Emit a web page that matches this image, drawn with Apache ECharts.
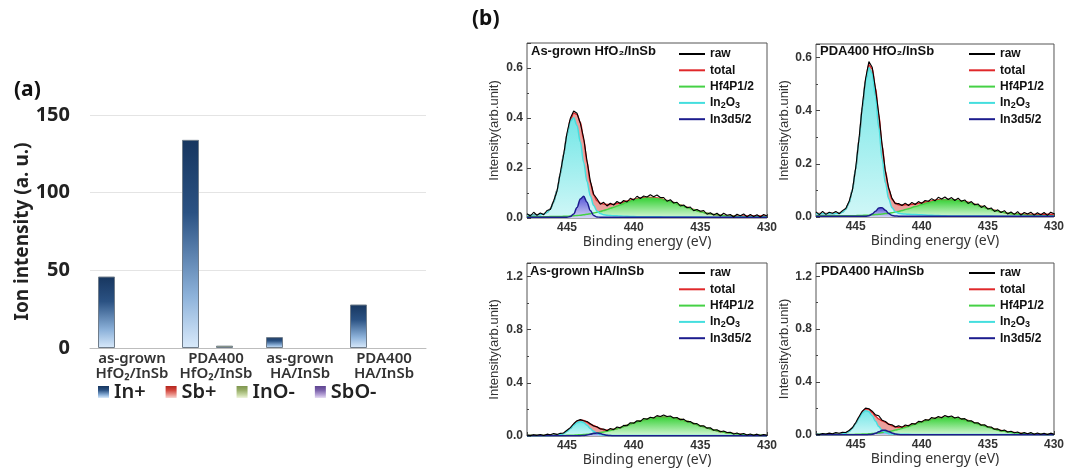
<!DOCTYPE html>
<html>
<head>
<meta charset="utf-8">
<title>Ion intensity and XPS fits</title>
<script src="https://cdn.jsdelivr.net/npm/echarts@6/dist/echarts.min.js"></script>
<style>
  html, body { margin: 0; padding: 0; background: #fff; }
  #chart { width: 1067px; height: 471px; }
</style>
</head>
<body>
<div id="chart"></div>
<script>
// ---- panel (a): ion intensity ----
const samples = ['as-grown HfO2/InSb', 'PDA400 HfO2/InSb', 'as-grown HA/InSb', 'PDA400 HA/InSb'];
const ionNames = ['In+', 'Sb+', 'InO-', 'SbO-'];
const inPlus = [46, 134, 7, 28];
const sbPlus = [0, 0, 0, 0];
const inoMinus = [0, 1.5, 0, 0];
const sboMinus = [0, 0, 0, 0];

// ---- panel (b): XPS In3d / Hf4p region ----
const fitNames = ['raw', 'total', 'Hf4P1/2', 'In2O3', 'In3d5/2'];
// binding energy grid used by the fitted curves
const energy = [448, 447.5, 447, 446.75, 446.5, 446.25, 446, 445.75, 445.5, 445.25, 445, 444.75, 444.5, 444.25, 444,
  443.75, 443.5, 443.25, 443, 442.75, 442.5, 442.25, 442, 441.75, 441.5, 441.25, 441,
  440.5, 440, 439.5, 439, 438.5, 438, 437.5, 437, 436.5, 436, 435.5, 435, 434.5, 434, 433.5, 433, 432.5, 432, 431.5, 431, 430.5, 430];
// binding energy of the raw scan
const rawEnergy = [448, 447.75, 447.5, 447.25, 447, 446.75, 446.5, 446.25, 446, 445.75, 445.5, 445.25, 445, 444.75, 444.5, 444.25,
  444, 443.75, 443.5, 443.25, 443, 442.75, 442.5, 442.25, 442, 441.75, 441.5, 441.25, 441, 440.75, 440.5, 440.25,
  440, 439.75, 439.5, 439.25, 439, 438.75, 438.5, 438.25, 438, 437.75, 437.5, 437.25, 437, 436.75, 436.5, 436.25,
  436, 435.75, 435.5, 435.25, 435, 434.75, 434.5, 434.25, 434, 433.75, 433.5, 433.25, 433, 432.75, 432.5, 432.25,
  432, 431.75, 431.5, 431.25, 431, 430.75, 430.5, 430.25, 430];

// As-grown HfO2/InSb
const tlRaw = [0.017,0.008,0.023,0.011,0.020,0.013,0.030,0.034,0.069,0.107,0.182,0.254,0.340,0.399,0.428,0.419,
  0.379,0.320,0.229,0.148,0.095,0.077,0.055,0.063,0.048,0.059,0.052,0.066,0.058,0.070,0.064,0.079,
  0.072,0.087,0.078,0.088,0.084,0.093,0.085,0.092,0.082,0.082,0.067,0.073,0.060,0.063,0.048,0.052,
  0.041,0.044,0.029,0.034,0.027,0.030,0.015,0.021,0.012,0.019,0.008,0.019,0.011,0.014,0.004,0.015,
  0.009,0.016,0.005,0.014,0.006,0.013,0.004,0.014,0.008];
const tlTotal = [0.013,0.013,0.014,0.017,0.023,0.037,0.065,0.111,0.177,0.257,0.336,0.393,0.420,0.414,0.383,
  0.314,0.225,0.142,0.092,0.069,0.059,0.056,0.054,0.054,0.055,0.058,0.060,
  0.068,0.075,0.080,0.083,0.082,0.078,0.070,0.062,0.052,0.043,0.034,0.026,0.019,0.014,0.011,0.009,0.008,0.008,0.008,0.008,0.008,0.008];
const tlHf = [0.005,0.005,0.005,0.005,0.005,0.006,0.006,0.006,0.006,0.007,0.007,0.008,0.009,0.010,0.011,
  0.013,0.015,0.017,0.020,0.023,0.026,0.030,0.034,0.039,0.043,0.048,0.053,
  0.063,0.071,0.077,0.080,0.079,0.076,0.069,0.061,0.051,0.042,0.033,0.025,0.019,0.014,0.011,0.008,0.007,0.006,0.005,0.005,0.005,0.005];
const tlIn2O3 = [0.012,0.012,0.013,0.016,0.022,0.036,0.064,0.110,0.176,0.255,0.333,0.387,0.401,0.370,0.304,
  0.222,0.146,0.088,0.050,0.028,0.018,0.013,0.011,0.010,0.009,0.009,0.008,
  0.007,0.006,0.005,0.005,0.005,0.005,0.004,0.004,0.004,0.004,0.004,0.004,0.003,0.003,0.003,0.003,0.003,0.003,0.003,0.003,0.003,0.003];
const tlIn3d = [0.003,0.003,0.003,0.003,0.003,0.003,0.003,0.003,0.003,0.003,0.003,0.006,0.016,0.042,0.076,
  0.087,0.063,0.030,0.010,0.004,0.003,0.003,0.003,0.003,0.003,0.003,0.003,
  0.003,0.003,0.003,0.003,0.003,0.003,0.003,0.003,0.003,0.003,0.003,0.003,0.003,0.003,0.003,0.003,0.003,0.003,0.003,0.003,0.003,0.003];

// PDA400 HfO2/InSb
const trRaw = [0.019,0.009,0.021,0.010,0.018,0.014,0.021,0.012,0.024,0.032,0.058,0.100,0.184,0.293,0.417,0.520,
  0.584,0.563,0.482,0.387,0.272,0.171,0.109,0.070,0.050,0.051,0.043,0.052,0.043,0.055,0.047,0.058,
  0.051,0.062,0.059,0.069,0.061,0.074,0.068,0.075,0.066,0.073,0.062,0.071,0.059,0.064,0.051,0.058,
  0.046,0.049,0.036,0.043,0.030,0.034,0.021,0.027,0.017,0.024,0.011,0.019,0.010,0.020,0.007,0.017,
  0.011,0.018,0.007,0.016,0.008,0.017,0.006,0.018,0.012];
const trTotal = [0.013,0.013,0.013,0.013,0.014,0.015,0.019,0.030,0.054,0.102,0.180,0.290,0.411,0.516,0.572,
  0.557,0.485,0.382,0.269,0.173,0.105,0.067,0.053,0.046,0.045,0.046,0.046,
  0.049,0.054,0.058,0.063,0.066,0.066,0.065,0.061,0.055,0.048,0.040,0.032,0.025,0.019,0.014,0.012,0.011,0.010,0.010,0.010,0.010,0.010];
const trHf = [0.005,0.005,0.005,0.005,0.005,0.005,0.005,0.005,0.005,0.005,0.005,0.006,0.006,0.007,0.007,
  0.008,0.009,0.010,0.011,0.013,0.014,0.016,0.019,0.021,0.024,0.028,0.031,
  0.039,0.047,0.054,0.060,0.064,0.065,0.064,0.060,0.054,0.047,0.039,0.031,0.024,0.019,0.014,0.011,0.009,0.007,0.006,0.005,0.005,0.005];
const trIn2O3 = [0.012,0.012,0.012,0.012,0.013,0.014,0.018,0.029,0.053,0.101,0.179,0.288,0.409,0.511,0.561,
  0.539,0.454,0.336,0.219,0.128,0.068,0.035,0.020,0.014,0.012,0.011,0.010,
  0.009,0.008,0.007,0.006,0.005,0.004,0.004,0.004,0.004,0.004,0.004,0.004,0.003,0.003,0.003,0.003,0.003,0.003,0.003,0.003,0.003,0.003];
const trIn3d = [0.003,0.003,0.003,0.003,0.003,0.003,0.003,0.003,0.003,0.003,0.003,0.003,0.003,0.003,0.005,
  0.011,0.022,0.034,0.035,0.025,0.013,0.006,0.004,0.003,0.003,0.003,0.003,
  0.003,0.003,0.003,0.003,0.003,0.003,0.003,0.003,0.003,0.003,0.003,0.003,0.003,0.003,0.003,0.003,0.003,0.003,0.003,0.003,0.003,0.003];

// As-grown HA/InSb
const blRaw = [0.007,0.003,0.009,0.005,0.011,0.004,0.014,0.009,0.018,0.012,0.020,0.023,0.043,0.063,0.092,0.115,
  0.123,0.115,0.109,0.092,0.075,0.070,0.053,0.052,0.040,0.056,0.048,0.068,0.061,0.080,0.077,0.100,
  0.096,0.115,0.110,0.132,0.126,0.141,0.135,0.153,0.146,0.158,0.146,0.150,0.135,0.139,0.122,0.127,
  0.108,0.109,0.092,0.093,0.074,0.077,0.059,0.062,0.043,0.047,0.032,0.037,0.026,0.028,0.015,0.023,
  0.012,0.019,0.007,0.015,0.006,0.014,0.004,0.011,0.005];
const blTotal = [0.005,0.005,0.005,0.005,0.005,0.005,0.006,0.007,0.012,0.021,0.037,0.059,0.087,0.109,0.119,
  0.117,0.104,0.089,0.078,0.066,0.056,0.046,0.044,0.046,0.050,0.056,0.064,
  0.081,0.098,0.114,0.128,0.138,0.144,0.143,0.137,0.126,0.111,0.094,0.077,0.061,0.046,0.034,0.025,0.018,0.013,0.009,0.007,0.006,0.005];
const blHf = [0.003,0.003,0.003,0.003,0.003,0.003,0.004,0.004,0.004,0.004,0.005,0.006,0.006,0.008,0.009,
  0.011,0.013,0.015,0.018,0.022,0.026,0.030,0.036,0.042,0.048,0.055,0.063,
  0.080,0.097,0.113,0.127,0.137,0.143,0.142,0.136,0.125,0.110,0.093,0.076,0.060,0.045,0.033,0.024,0.017,0.012,0.008,0.006,0.005,0.004];
const blIn2O3 = [0.004,0.004,0.004,0.004,0.004,0.004,0.005,0.006,0.011,0.019,0.035,0.056,0.081,0.101,0.109,
  0.101,0.081,0.056,0.035,0.019,0.011,0.006,0.005,0.004,0.004,0.004,0.004,
  0.004,0.004,0.004,0.004,0.004,0.004,0.004,0.004,0.004,0.004,0.003,0.003,0.003,0.003,0.003,0.003,0.003,0.003,0.003,0.003,0.003,0.003];
const blIn3d = [0.002,0.002,0.002,0.002,0.002,0.002,0.002,0.002,0.002,0.002,0.002,0.002,0.002,0.002,0.002,
  0.004,0.007,0.013,0.020,0.022,0.018,0.011,0.005,0.003,0.002,0.002,0.002,
  0.002,0.002,0.002,0.002,0.002,0.002,0.002,0.002,0.002,0.002,0.002,0.002,0.002,0.002,0.002,0.002,0.002,0.002,0.002,0.002,0.002,0.002];

// PDA400 HA/InSb
const brRaw = [0.008,0.004,0.011,0.007,0.014,0.009,0.018,0.013,0.020,0.019,0.034,0.055,0.093,0.138,0.180,0.203,
  0.198,0.180,0.152,0.145,0.112,0.102,0.080,0.078,0.060,0.069,0.058,0.076,0.069,0.087,0.082,0.103,
  0.099,0.116,0.111,0.132,0.125,0.140,0.131,0.147,0.137,0.144,0.128,0.136,0.120,0.124,0.106,0.108,
  0.091,0.093,0.074,0.078,0.060,0.060,0.043,0.046,0.032,0.037,0.023,0.028,0.017,0.023,0.010,0.018,
  0.009,0.018,0.006,0.015,0.006,0.013,0.004,0.014,0.006];
const brTotal = [0.005,0.005,0.005,0.005,0.006,0.007,0.009,0.015,0.028,0.053,0.089,0.135,0.175,0.197,0.195,
  0.172,0.142,0.120,0.108,0.096,0.083,0.070,0.062,0.059,0.061,0.065,0.071,
  0.085,0.101,0.114,0.126,0.133,0.135,0.131,0.122,0.109,0.093,0.077,0.061,0.046,0.034,0.025,0.018,0.013,0.010,0.008,0.007,0.006,0.005];
const brHf = [0.003,0.003,0.003,0.003,0.003,0.003,0.004,0.004,0.004,0.004,0.005,0.006,0.007,0.008,0.009,
  0.011,0.013,0.015,0.019,0.022,0.026,0.031,0.037,0.043,0.050,0.057,0.065,
  0.081,0.098,0.112,0.124,0.131,0.133,0.129,0.120,0.107,0.091,0.075,0.059,0.044,0.032,0.023,0.016,0.011,0.008,0.006,0.005,0.004,0.003];
const brIn2O3 = [0.005,0.005,0.005,0.005,0.005,0.006,0.008,0.014,0.027,0.051,0.087,0.129,0.166,0.184,0.176,
  0.145,0.103,0.064,0.035,0.018,0.010,0.007,0.005,0.005,0.005,0.005,0.005,
  0.004,0.004,0.004,0.004,0.004,0.004,0.004,0.004,0.004,0.004,0.003,0.003,0.003,0.003,0.003,0.003,0.003,0.003,0.003,0.003,0.003,0.003];
const brIn3d = [0.002,0.002,0.002,0.002,0.002,0.002,0.002,0.002,0.002,0.002,0.002,0.002,0.002,0.002,0.003,
  0.006,0.013,0.024,0.035,0.036,0.027,0.015,0.007,0.003,0.002,0.002,0.002,
  0.002,0.002,0.002,0.002,0.002,0.002,0.002,0.002,0.002,0.002,0.002,0.002,0.002,0.002,0.002,0.002,0.002,0.002,0.002,0.002,0.002,0.002];

const chart = echarts.init(document.getElementById('chart'));

function grad(c1, c2, c3, c4) {
  const stops = c3
    ? [{ offset: 0, color: c1 }, { offset: 0.35, color: c2 }, { offset: 0.75, color: c3 }, { offset: 1, color: c4 }]
    : [{ offset: 0, color: c1 }, { offset: 1, color: c2 }];
  return new echarts.graphic.LinearGradient(0, 0, 0, 1, stops);
}

const sansA = '"Noto Sans", sans-serif';
const sansB = '"Liberation Sans", Arial, sans-serif';

// xps panel layout
const panels = [
  { title: 'As-grown HfO₂/InSb', ymax: 0.7, step: 0.2, raw: tlRaw, total: tlTotal, hf: tlHf, ino: tlIn2O3, in3d: tlIn3d,
    grid: { left: 527, top: 43, width: 240, height: 175 }, leg: [679, 47], tpos: [531, 45], nameGap: 26 },
  { title: 'PDA400 HfO₂/InSb', ymax: 0.65, step: 0.2, raw: trRaw, total: trTotal, hf: trHf, ino: trIn2O3, in3d: trIn3d,
    grid: { left: 816, top: 44, width: 240, height: 173 }, leg: [969, 47], tpos: [820, 45], nameGap: 23 },
  { title: 'As-grown HA/InSb', ymax: 1.3, step: 0.4, raw: blRaw, total: blTotal, hf: blHf, ino: blIn2O3, in3d: blIn3d,
    grid: { left: 527, top: 263, width: 240, height: 173 }, leg: [679, 266], tpos: [530, 265], nameGap: 26 },
  { title: 'PDA400 HA/InSb', ymax: 1.3, step: 0.4, raw: brRaw, total: brTotal, hf: brHf, ino: brIn2O3, in3d: brIn3d,
    grid: { left: 816, top: 263, width: 240, height: 172 }, leg: [969, 266], tpos: [821, 265], nameGap: 23 }
];

const grids = [{ left: 90, right: 641, top: 115, bottom: 123 }];
const xAxes = [{
  type: 'category', gridIndex: 0, data: samples,
  axisLine: { lineStyle: { color: '#bdbdbd', width: 1 } },
  axisTick: { show: false },
  axisLabel: {
    interval: 0, margin: 3, fontSize: 15, fontWeight: 600, lineHeight: 15, color: '#333', fontFamily: sansA,
    formatter: v => v.replace(' ', '\n').replace('HfO2', 'HfO₂')
  }
}];
const yAxes = [{
  type: 'value', gridIndex: 0, min: 0, max: 150, interval: 50,
  axisLine: { show: false }, axisTick: { show: false },
  axisLabel: { fontSize: 20, fontWeight: 'bold', color: '#222', margin: 20, fontFamily: sansA },
  splitLine: { lineStyle: { color: '#e4e4e4' } },
  name: 'Ion intensity (a. u.)', nameLocation: 'middle', nameGap: 55,
  nameTextStyle: { fontSize: 19, fontWeight: 'bold', color: '#222', fontFamily: sansA }
}];

const barColors = [
  grad('#17365f', '#2b5283', '#8db2da', '#d9eafb'),
  grad('#b3261e', '#d2453c', '#ec9a92', '#f8d6d2'),
  grad('#7f9650', '#98ae68', '#c9d9a6', '#eef4dc'),
  grad('#5e4490', '#7a60aa', '#b9a6d8', '#e6ddf3')
];
const series = [inPlus, sbPlus, inoMinus, sboMinus].map((vals, k) => ({
  type: 'bar', name: ionNames[k], xAxisIndex: 0, yAxisIndex: 0,
  // a zero bar gets no outline, so nothing is drawn for it
  data: vals.map(v => (v > 0 ? v : { value: v, itemStyle: { borderWidth: 0 } })),
  barWidth: 17, barGap: '0%',
  itemStyle: { color: barColors[k], borderColor: '#6f7c8a', borderWidth: 1 }
}));

const legends = [{
  data: ionNames, left: 98, top: 382, itemWidth: 11, itemHeight: 12, itemGap: 20, icon: 'rect',
  selectedMode: false, padding: 0,
  itemStyle: { borderWidth: 0 },
  textStyle: { fontSize: 20, fontWeight: 600, color: '#222', fontFamily: sansA }
}];

const graphics = [
  { type: 'text', left: 14, top: 80, style: { text: '(a)', font: 'bold 21px "Noto Sans"', fill: '#111' } },
  { type: 'text', left: 472, top: 9, style: { text: '(b)', font: 'bold 21px "Noto Sans"', fill: '#111' } }
];

const styleFit = {
  total: { line: '#e0282a', area: '#eba09c' },
  hf: { line: '#45d145', area: grad('#38d238', '#d8f6d8') },
  ino: { line: '#44dede', area: grad('#72e6e6', '#d0f7f7') },
  in3d: { line: '#1c1c8e', area: grad('#5454d6', '#d4d4f6') }
};

function fitSeries(gi, name, ys, st) {
  return {
    type: 'line', name, xAxisIndex: gi, yAxisIndex: gi,
    data: energy.map((e, i) => [e, ys[i]]),
    smooth: 0.35, smoothMonotone: 'x', symbol: 'none', showSymbol: false,
    lineStyle: { color: st.line, width: 1.5 }, itemStyle: { color: st.line },
    areaStyle: { color: st.area, opacity: 1 }
  };
}

const legendText = {
  fontSize: 12, fontWeight: 'bold', color: '#111', lineHeight: 14, fontFamily: sansB,
  rich: {
    n: { fontSize: 12, fontWeight: 'bold', color: '#111', lineHeight: 14, fontFamily: sansB },
    s: { fontSize: 9, fontWeight: 'bold', color: '#111', lineHeight: 9, verticalAlign: 'bottom', fontFamily: sansB }
  }
};

panels.forEach((p, k) => {
  const gi = k + 1;
  grids.push(Object.assign({ show: true, borderColor: '#555', borderWidth: 1 }, p.grid));
  xAxes.push({
    type: 'value', gridIndex: gi, min: 430, max: 448, interval: 5, inverse: true,
    axisLine: { show: false },
    axisTick: { inside: true, length: 4, lineStyle: { color: '#444' } },
    minorTick: { show: true, splitNumber: 2, length: 2, lineStyle: { color: '#444' } },
    splitLine: { show: false },
    axisLabel: { showMaxLabel: false, fontSize: 12, fontWeight: 'bold', color: '#333', margin: 4, fontFamily: sansB },
    name: 'Binding energy (eV)', nameLocation: 'middle', nameGap: 16,
    nameTextStyle: { fontSize: 14, color: '#333', fontFamily: sansA }
  });
  yAxes.push({
    type: 'value', gridIndex: gi, min: 0, max: p.ymax, interval: p.step,
    axisLine: { show: false },
    axisTick: { inside: true, length: 4, lineStyle: { color: '#444' } },
    minorTick: { show: true, splitNumber: 2, length: 2, lineStyle: { color: '#444' } },
    splitLine: { show: false },
    axisLabel: { showMaxLabel: false, fontSize: 12, fontWeight: 'bold', color: '#333', margin: 4, fontFamily: sansB,
      formatter: v => v.toFixed(1) },
    name: 'Intensity(arb.unit)', nameLocation: 'middle', nameGap: p.nameGap,
    nameTextStyle: { fontSize: 13, color: '#333', fontFamily: sansB }
  });
  series.push(fitSeries(gi, 'total', p.total, styleFit.total));
  series.push(fitSeries(gi, 'Hf4P1/2', p.hf, styleFit.hf));
  series.push(fitSeries(gi, 'In2O3', p.ino, styleFit.ino));
  series.push(fitSeries(gi, 'In3d5/2', p.in3d, styleFit.in3d));
  series.push({
    type: 'line', name: 'raw', xAxisIndex: gi, yAxisIndex: gi,
    data: rawEnergy.map((e, i) => [e, p.raw[i]]),
    symbol: 'none', showSymbol: false,
    lineStyle: { color: '#000', width: 1.1 }, itemStyle: { color: '#000' }
  });
  legends.push({
    data: fitNames, left: p.leg[0], top: p.leg[1], orient: 'vertical', icon: 'rect',
    itemWidth: 26, itemHeight: 2, itemGap: 2.3, padding: 0, selectedMode: false,
    formatter: name => (name === 'In2O3' ? '{n|In}{s|2}{n|O}{s|3}' : name),
    textStyle: legendText
  });
  graphics.push({ type: 'text', left: p.tpos[0], top: p.tpos[1],
    style: { text: p.title, font: 'bold 13px "Liberation Sans"', fill: '#111' } });
});

chart.setOption({
  animation: false,
  backgroundColor: '#fff',
  grid: grids,
  xAxis: xAxes,
  yAxis: yAxes,
  legend: legends,
  graphic: graphics,
  series: series
});
</script>
</body>
</html>
